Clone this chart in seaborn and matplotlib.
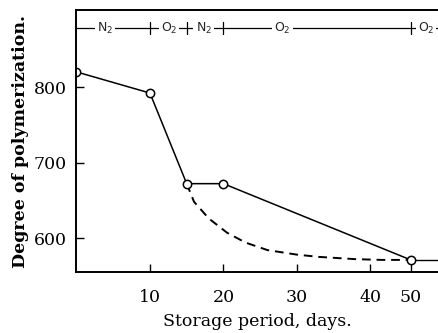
import numpy as np
import pandas as pd
import matplotlib
matplotlib.use("Agg")
import matplotlib.pyplot as plt
import seaborn as sns

# ---- data ----
days = [0, 10, 15, 20, 50]
dp = [820, 792, 672, 672, 571]
tail_days = [50, 60]
tail_dp = [571, 571]
dash_days = [15, 16, 18, 20.5, 23, 26, 30, 33, 38, 43, 50]
dash_dp = [672, 648, 626, 607, 594, 584, 578, 575, 572, 571, 571]
x_ticks = [10, 20, 30, 40, 50]
y_ticks = [600, 700, 800]
gas_bounds = [10, 15, 20, 50]
gas_labels = [r"N$_2$", r"O$_2$", r"N$_2$", r"O$_2$", r"O$_2$"]
gas_label_x = [3.9, 12.6, 17.3, 28, 53.8]

sns.set_theme(style="ticks")
plt.rcParams["font.family"] = ["DejaVu Serif"]

fig = plt.figure(figsize=(4.39, 3.33), dpi=100)
ax = fig.add_axes([76.5 / 439, 1 - 272 / 333, 1 - 76.5 / 439, (272 - 10) / 333])

def fwd(x):
    x = np.asarray(x, dtype=float)
    return np.where(x <= 40, x, 40 + (x - 40) * 0.55)

def inv(y):
    y = np.asarray(y, dtype=float)
    return np.where(y <= 40, y, 40 + (y - 40) / 0.55)

ax.set_xscale("function", functions=(fwd, inv))

df = pd.DataFrame({"days": days, "dp": dp})
df_tail = pd.DataFrame({"days": tail_days, "dp": tail_dp})
df_dash = pd.DataFrame({"days": dash_days, "dp": dash_dp})

sns.lineplot(data=df_dash, x="days", y="dp", ax=ax, color="black", lw=1.4,
             linestyle=(0, (4.5, 3)), sort=False)
sns.lineplot(data=df_tail, x="days", y="dp", ax=ax, color="black", lw=1.0, sort=False)
sns.lineplot(data=df, x="days", y="dp", ax=ax, color="black", lw=1.1, sort=False,
             marker="o", markersize=6, markerfacecolor="white",
             markeredgecolor="black", markeredgewidth=1.1)

ax.set_xlim(0, 57)
ax.set_ylim(555, 902)
ax.set_xticks(x_ticks)
ax.set_xticklabels([str(t) for t in x_ticks])
ax.set_yticks(y_ticks)
ax.set_yticklabels([str(t) for t in y_ticks])
ax.tick_params(direction="in", length=6, width=1, labelsize=12.5, colors="black")
ax.tick_params(axis="x", pad=12)
ax.tick_params(axis="y", pad=7)

for s in ["left", "bottom", "top"]:
    ax.spines[s].set_linewidth(1.4)
    ax.spines[s].set_color("black")
ax.spines["right"].set_visible(False)

ax.set_xlabel("Storage period, days.", fontsize=12.5, labelpad=5, color="black")
ax.set_ylabel("Degree of polymerization.", fontsize=12.5, fontweight="bold",
              labelpad=3, color="black")

# gas atmosphere annotation
y_gas = 878
ax.plot([0, 57], [y_gas, y_gas], color="black", lw=0.9, clip_on=True)
for b in gas_bounds:
    ax.plot([b, b], [y_gas - 8, y_gas + 8], color="black", lw=0.9)
for lab, xp in zip(gas_labels, gas_label_x):
    ax.text(xp, y_gas, lab, ha="center", va="center", fontsize=9,
            family="DejaVu Sans",
            bbox=dict(facecolor="white", edgecolor="none", pad=1.5))

fig.savefig("out.png", dpi=100)
